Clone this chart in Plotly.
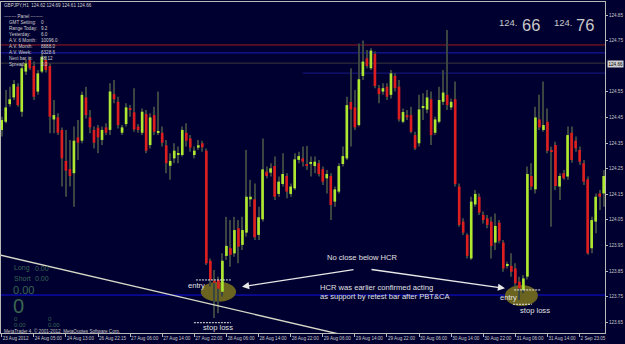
import plotly.graph_objects as go

# ---------------- data (GBPJPY H1) ----------------
opens = [124.401,124.433,124.502,124.528,124.570,124.472,124.629,124.674,124.651,124.551,
         124.629,124.674,124.651,124.442,124.450,124.401,124.280,124.248,124.232,124.372,
         124.359,124.528,124.450,124.401,124.410,124.362,124.411,124.401,124.541,124.511,
         124.390,124.424,124.485,124.470,124.414,124.390,124.463,124.342,124.459,124.390,
         124.390,124.341,124.261,124.290,124.304,124.303,124.390,124.368,124.303,124.332,
         124.349,124.320,123.890,123.812,123.815,123.769,123.909,123.939,123.919,124.017,
         123.952,124.000,124.130,124.130,123.991,124.052,124.238,124.234,124.260,124.151,
         124.190,124.221,124.151,124.173,124.284,124.290,124.268,124.269,124.260,124.271,
         124.248,124.212,124.221,124.121,124.160,124.268,124.290,124.510,124.489,124.420,
         124.612,124.681,124.642,124.698,124.564,124.551,124.570,124.538,124.612,124.570,
         124.433,124.459,124.459,124.381,124.349,124.488,124.481,124.521,124.390,124.433,
         124.511,124.538,124.489,124.521,124.180,124.043,123.991,123.899,124.110,124.140,
         124.069,124.056,124.043,123.961,124.039,123.961,123.870,123.870,123.860,123.808,
         123.776,123.828,124.221,124.169,124.442,124.401,124.433,124.320,124.342,124.180,
         124.232,124.219,124.390,124.359,124.323,124.271,124.208,123.939,124.043,124.153,
         124.153]
highs = [124.453,124.557,124.570,124.596,124.583,124.661,124.677,124.687,124.668,124.635,
         124.700,124.690,124.661,124.518,124.466,124.411,124.401,124.362,124.414,124.440,
         124.551,124.570,124.479,124.414,124.420,124.414,124.427,124.583,124.596,124.531,
         124.420,124.505,124.498,124.564,124.424,124.485,124.479,124.466,124.492,124.551,
         124.414,124.362,124.310,124.349,124.336,124.414,124.427,124.381,124.336,124.362,
         124.359,124.329,123.899,123.854,123.828,123.919,124.062,124.049,124.062,124.049,
         124.062,124.323,124.206,124.192,124.101,124.368,124.258,124.271,124.297,124.219,
         124.310,124.232,124.192,124.310,124.316,124.336,124.338,124.297,124.297,124.284,
         124.258,124.245,124.232,124.180,124.271,124.336,124.531,124.642,124.557,124.739,
         124.750,124.713,124.720,124.707,124.577,124.583,124.583,124.635,124.622,124.596,
         124.485,124.479,124.492,124.394,124.538,124.544,124.557,124.551,124.453,124.570,
         124.635,124.791,124.524,124.590,124.192,124.056,123.997,124.140,124.166,124.153,
         124.082,124.069,124.062,124.075,124.049,123.971,123.886,123.919,123.880,123.828,
         123.834,124.258,124.271,124.492,124.538,124.590,124.485,124.336,124.355,124.232,
         124.245,124.414,124.414,124.375,124.336,124.284,124.219,124.062,124.153,124.166,
         124.245]
lows = [124.375,124.427,124.492,124.518,124.492,124.453,124.616,124.635,124.518,124.538,
        124.622,124.625,124.388,124.388,124.381,124.180,124.140,124.180,124.101,124.284,
        124.349,124.446,124.388,124.329,124.310,124.342,124.381,124.381,124.505,124.407,
        124.381,124.414,124.453,124.394,124.390,124.381,124.310,124.329,124.381,124.381,
        124.336,124.232,124.206,124.271,124.271,124.297,124.336,124.316,124.290,124.323,
        124.316,123.873,123.789,123.666,123.685,123.750,123.893,123.867,123.906,123.880,
        123.932,123.984,124.101,123.971,123.971,124.043,124.212,124.219,124.127,124.140,
        124.180,124.134,124.140,124.166,124.271,124.258,124.245,124.219,124.232,124.219,
        124.186,124.153,124.049,124.101,124.153,124.258,124.284,124.336,124.401,124.414,
        124.596,124.642,124.635,124.564,124.505,124.538,124.518,124.524,124.551,124.433,
        124.427,124.440,124.388,124.323,124.336,124.440,124.466,124.342,124.381,124.427,
        124.498,124.479,124.479,124.180,124.023,123.991,123.899,123.893,124.101,124.069,
        124.036,124.017,123.899,123.932,123.958,123.847,123.860,123.828,123.789,123.737,
        123.763,123.817,124.166,124.153,124.401,124.394,124.310,124.023,124.166,124.127,
        124.206,124.206,124.273,124.316,124.264,124.186,123.913,123.919,123.997,124.088,
        124.101]
closes = [124.440,124.489,124.521,124.580,124.498,124.642,124.661,124.642,124.531,124.622,
          124.687,124.635,124.453,124.459,124.390,124.290,124.242,124.221,124.359,124.351,
          124.538,124.459,124.411,124.351,124.372,124.401,124.390,124.551,124.521,124.420,
          124.411,124.489,124.481,124.403,124.401,124.472,124.320,124.450,124.394,124.394,
          124.351,124.271,124.280,124.320,124.310,124.401,124.359,124.332,124.320,124.341,
          124.333,123.880,123.815,123.804,123.781,123.890,123.948,123.913,124.010,123.945,
          124.010,124.140,124.140,123.982,124.060,124.247,124.221,124.251,124.140,124.199,
          124.229,124.160,124.180,124.286,124.299,124.277,124.260,124.273,124.277,124.229,
          124.199,124.229,124.108,124.169,124.260,124.299,124.498,124.481,124.411,124.599,
          124.668,124.651,124.711,124.573,124.541,124.564,124.531,124.622,124.564,124.442,
          124.471,124.450,124.394,124.329,124.481,124.492,124.528,124.381,124.442,124.518,
          124.547,124.498,124.511,124.190,124.030,124.000,123.909,124.121,124.151,124.078,
          124.049,124.030,123.948,124.026,123.968,123.860,123.877,123.847,123.802,123.782,
          123.821,124.229,124.180,124.450,124.411,124.420,124.320,124.315,124.182,124.221,
          124.212,124.381,124.284,124.329,124.277,124.199,123.919,124.049,124.140,124.140,
          124.221]

time_tick_bars = [0, 8, 16, 24, 32, 40, 48, 56, 64, 72, 80, 88, 96, 104, 112, 120, 128, 136, 144]
time_tick_labels = ["23 Aug 2012", "24 Aug 05:00", "24 Aug 13:00", "26 Aug 22:15", "27 Aug 06:00",
                    "27 Aug 14:00", "27 Aug 22:00", "28 Aug 06:00", "28 Aug 14:00", "28 Aug 22:00",
                    "29 Aug 06:00", "29 Aug 14:00", "29 Aug 22:00", "30 Aug 06:00", "30 Aug 14:00",
                    "30 Aug 22:00", "31 Aug 06:00", "31 Aug 14:00", "2 Sep 23:05"]
price_ticks = [124.85, 124.75, 124.55, 124.45, 124.35, 124.25, 124.15, 124.05,
               123.95, 123.85, 123.75, 123.65]
current_price = 124.66

# horizontal levels: (price, colour, start bar)
level_prices = [124.733, 124.702, 124.662, 124.623, 123.756]
level_colors = ["#9a1c1c", "#1c1cb4", "#3a3a3a", "#1a1a8a", "#1010e0"]
level_starts = [-1, -1, -1, 75, -1]

# trendline points (bar, price)
trend_x = [-0.2, 85.1]
trend_y = [123.912, 123.600]

# entry / stop-loss levels: (bar from, bar to, price)
entry_levels = [(48.4, 57.1, 123.815), (127.7, 134.4, 123.776)]
stop_levels = [(47.9, 57.1, 123.648), (127.4, 132.1, 123.720)]
ellipses = [(49.6, 58.4, 123.730, 123.808), (125.4, 133.6, 123.713, 123.795)]

# ---------------- styling ----------------
BG = "#000030"
BULL = "#aee830"
BEAR = "#dc1e1e"
WICK = "#3a4440"
FRAME = "#b8b8b8"
TXT = "#d0d0d0"
DIM = "#3a6650"
FONT = "Liberation Sans, Arial, sans-serif"
SMALL = 4.6

W, H = 625, 344
ML, MR, MT, MB = 1, 20, 2, 11
PW, PH = W - ML - MR, H - MT - MB

n = len(opens)
idx = list(range(n))

fig = go.Figure()

# wicks (thin bars)
fig.add_trace(go.Bar(
    x=idx, y=[h - l for h, l in zip(highs, lows)], base=lows, width=0.26,
    marker=dict(color=WICK, line=dict(width=0)), hoverinfo="skip"))

# bodies
bottoms = [min(o, c) for o, c in zip(opens, closes)]
heights = [max(abs(c - o), 0.004) for o, c in zip(opens, closes)]
colors = [BULL if c >= o else BEAR for o, c in zip(opens, closes)]
fig.add_trace(go.Bar(
    x=idx, y=heights, base=bottoms, width=0.66,
    marker=dict(color=colors, line=dict(width=0)), hoverinfo="skip"))

# trendline
fig.add_trace(go.Scatter(x=trend_x, y=trend_y, mode="lines",
                         line=dict(color="#d8d8c8", width=1.4), hoverinfo="skip"))

shapes = []
for p, col, s in zip(level_prices, level_colors, level_starts):
    shapes.append(dict(type="line", xref="x", yref="y", x0=s if s >= 0 else -1, x1=152,
                       y0=p, y1=p, line=dict(color=col, width=1), layer="below"))
for x0, x1, y0, y1 in ellipses:
    shapes.append(dict(type="circle", xref="x", yref="y", x0=x0, x1=x1, y0=y0, y1=y1,
                       fillcolor="#6a6420", line=dict(width=0), layer="below"))
for x0, x1, p in entry_levels + stop_levels:
    shapes.append(dict(type="line", xref="x", yref="y", x0=x0, x1=x1, y0=p, y1=p,
                       line=dict(color="#e8e8e8", width=1, dash="2px,1px")))

ann = []


def px(x):
    return (x - ML) / PW


def py(y):
    return 1 - (y - MT) / PH


def txt(x, y, s, size, color=TXT, anchor="left"):
    ann.append(dict(xref="paper", yref="paper", x=px(x), y=py(y), text=s, showarrow=False,
                    xanchor=anchor, yanchor="middle", font=dict(family=FONT, size=size, color=color)))


# header & panel
txt(2, 5, "GBPJPY,H1  124.62 124.69 124.61 124.66", SMALL)
txt(2, 16.5, "-------- Panel --------", SMALL)
panel_rows = [("GMT Setting:", "0"), ("Range Today:", "9.2"), ("Yesterday:", "6.0"),
              ("A.V. 6 Month:", "10096.0"), ("A.V. Month:", "8888.0"), ("A.V. Week:", "6328.6"),
              ("Next bar in:", "48:12"), ("Spread:", "3.0")]
for i, (a, b) in enumerate(panel_rows):
    yy = 22.5 + 6 * i
    txt(6.5, yy, a, SMALL)
    txt(38.5, yy, b, SMALL)

# big bid/ask
txt(497, 22, "124.", 9.5, "#c8c8c8")
txt(519.5, 24.5, "66", 16.5, "#c8c8c8")
txt(552, 22, "124.", 9.5, "#c8c8c8")
txt(574, 24.5, "76", 16.5, "#c8c8c8")

# dim bottom-left info
txt(11.5, 268, "Long", 7, DIM)
txt(33, 268, "0.00", 7, DIM)
txt(11.5, 278, "Short", 7, DIM)
txt(33, 278, "0.00", 7, DIM)
txt(11, 290, "0.00", 11, DIM)
txt(10.5, 306, "0", 20, DIM)
txt(11.5, 318.5, "0", 6, DIM)
txt(46, 318.5, "0", 6, DIM)
txt(11.5, 325, "0.00", 6, DIM)
txt(46, 325, "0.00", 6, DIM)
txt(2, 330.5, "MetaTrader 4, \u00a9 2001-2012, MetaQuotes Software Corp.", SMALL, "#c8c8c8")


def dx(xpix):
    return (xpix - 1.7) / 4.013


def dy(ypix):
    return 124.85 - (ypix - 15) / 256.0


def dtxt(x, y, s, size=7.6, anchor="left"):
    ann.append(dict(xref="x", yref="y", x=dx(x), y=dy(y), text=s, showarrow=False,
                    xanchor=anchor, yanchor="middle", font=dict(family=FONT, size=size, color="#e0e0e0")))


dtxt(362, 257, "No close below HCR", anchor="center")
dtxt(317.5, 287, "HCR was earlier confirmed acting")
dtxt(317.5, 296.5, "as support by retest bar after PBT&CA")
dtxt(186, 285, "entry")
dtxt(201, 327, "stop loss")
dtxt(498, 297, "entry")
dtxt(517.5, 310, "stop loss")

# arrows
for (hx, hy), (tx, ty) in [((242, 286.7), (355, 269.3)), ((505, 288.3), (370, 269.3))]:
    ann.append(dict(xref="x", yref="y", axref="x", ayref="y", x=dx(hx), y=dy(hy),
                    ax=dx(tx), ay=dy(ty), text="", showarrow=True, arrowhead=2,
                    arrowsize=1.1, arrowwidth=1.3, arrowcolor="#e8e8e8"))

# current price box on the scale
ann.append(dict(xref="paper", yref="y", x=1, y=current_price, xanchor="left", yanchor="middle",
                xshift=2, text="124.66", showarrow=False, bgcolor="#d0d0d0", borderpad=0.5,
                font=dict(family=FONT, size=SMALL, color="#000000")))

fig.update_layout(
    width=W, height=H, margin=dict(l=ML, r=MR, t=MT, b=MB),
    paper_bgcolor=BG, plot_bgcolor=BG, showlegend=False, barmode="overlay",
    shapes=shapes, annotations=ann,
    xaxis=dict(range=[-0.17, 150.33], showgrid=False, zeroline=False, showline=True,
               linecolor=FRAME, linewidth=1, mirror=True, ticks="outside", ticklen=3,
               tickcolor=FRAME, tickvals=time_tick_bars, ticktext=time_tick_labels,
               tickangle=0, ticklabelposition="outside right", ticklabeloverflow="allow",
               tickfont=dict(family=FONT, size=SMALL, color="#c8c8c8"), fixedrange=True),
    yaxis=dict(range=[123.6078, 124.9008], side="right", showgrid=False, zeroline=False,
               showline=True, linecolor=FRAME, linewidth=1, mirror=True, ticks="outside",
               ticklen=2, tickcolor=FRAME, tickvals=price_ticks,
               ticktext=["%.2f" % v for v in price_ticks],
               tickfont=dict(family=FONT, size=SMALL, color="#c8c8c8"), fixedrange=True),
)

fig.write_html("out.html")
